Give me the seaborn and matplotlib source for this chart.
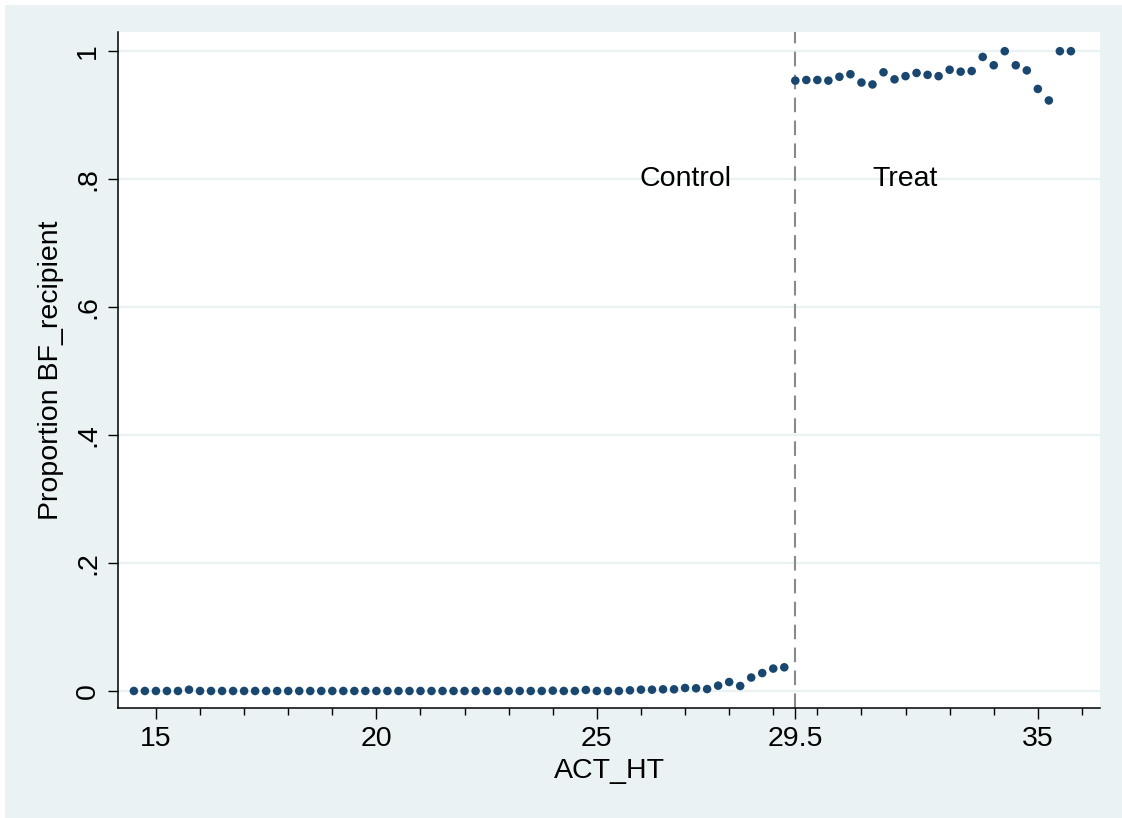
import numpy as np
import pandas as pd
import matplotlib
matplotlib.use("Agg")
import matplotlib.pyplot as plt
from matplotlib.patches import Rectangle
from matplotlib.ticker import FixedLocator
import seaborn as sns

# Bin midpoints of ACT_HT (bins of width 0.25) on each side of the cutoff
act_ht_control = np.arange(14.5, 29.5, 0.25)
act_ht_treat = np.arange(29.5, 36.0, 0.25)

# Share of BF recipients in each bin
prop_control = [
    0, 0, 0, 0, 0, 0.002, 0, 0, 0, 0,
    0, 0, 0, 0, 0, 0, 0, 0, 0, 0,
    0, 0, 0, 0, 0, 0, 0, 0, 0, 0,
    0, 0, 0, 0, 0, 0, 0, 0, 0.0005, 0,
    0, 0.0016, 0, 0, 0, 0.001, 0.002, 0.002, 0.0026, 0.0026,
    0.0047, 0.0042, 0.003, 0.0083, 0.014, 0.0078, 0.021, 0.028, 0.035, 0.037,
]
prop_treat = [
    0.954, 0.955, 0.955, 0.954, 0.960, 0.964, 0.951, 0.948, 0.967, 0.956,
    0.961, 0.966, 0.963, 0.961, 0.971, 0.968, 0.969, 0.991, 0.978, 1.0,
    0.978, 0.970, 0.941, 0.923, 1.0, 1.0,
]

cutoff = 29.5
x_ticks = [15, 20, 25, 29.5, 35]
x_tick_labels = ["15", "20", "25", "29.5", "35"]
x_minor_ticks = list(range(15, 37))
y_ticks = [0, 0.2, 0.4, 0.6, 0.8, 1.0]
y_tick_labels = ["0", ".2", ".4", ".6", ".8", "1"]
group_labels = ["Control", "Treat"]
group_label_x = [27.0, 32.0]

navy = "#1A476F"
panel = "#EAF2F3"
fs = 20.5

sns.set_style("white")
plt.rcParams["font.family"] = ["Liberation Sans", "DejaVu Sans"]
plt.rcParams["text.color"] = "black"
plt.rcParams["axes.labelcolor"] = "black"
plt.rcParams["xtick.color"] = "black"
plt.rcParams["ytick.color"] = "black"

W, H = 1122, 818
fig = plt.figure(figsize=(W / 100, H / 100), dpi=100, facecolor="white")
fig.patches.append(Rectangle((5 / W, 0), 1 - 5 / W, 1 - 5 / H,
                             transform=fig.transFigure, facecolor=panel,
                             edgecolor="none", zorder=-10))

ax = fig.add_axes([118 / W, 1 - 708 / H, (1100 - 118) / W, (708 - 32) / H])
ax.set_zorder(1)
ax.set_facecolor("white")

df = pd.DataFrame({
    "ACT_HT": np.concatenate([act_ht_control, act_ht_treat]),
    "share": prop_control + prop_treat,
})
sns.scatterplot(data=df, x="ACT_HT", y="share", ax=ax, color=navy, s=38,
                edgecolor="none", linewidth=0, zorder=3, legend=False)

ax.axvline(cutoff, color="#8A8A8A", lw=1.5, ls=(0, (7, 4)), zorder=2)

for lab, xx in zip(group_labels, group_label_x):
    ax.text(xx, 0.8, lab, ha="center", va="center", fontsize=fs,
            color="black", zorder=4)

ax.set_xlim(14.14, 36.41)
ax.set_ylim(-0.0266, 1.030)

ax.set_xticks(x_ticks)
ax.set_xticklabels(x_tick_labels)
ax.xaxis.set_minor_locator(FixedLocator(x_minor_ticks))
ax.set_yticks(y_ticks)
ax.set_yticklabels(y_tick_labels, rotation=90, va="center")

ax.yaxis.grid(True, color=panel, lw=1.6, zorder=0)
ax.xaxis.grid(False)
ax.set_axisbelow(True)

ax.tick_params(axis="x", which="major", direction="out", length=8, width=1,
               color="black", labelcolor="black", labelsize=fs, pad=5,
               bottom=True)
ax.tick_params(axis="x", which="minor", direction="out", length=5, width=1,
               color="black", bottom=True)
ax.tick_params(axis="y", which="major", direction="out", length=7, width=1,
               color="black", labelcolor="black", labelsize=fs, pad=5,
               left=True)

for side in ["top", "right"]:
    ax.spines[side].set_visible(False)
for side in ["left", "bottom"]:
    ax.spines[side].set_color("black")
    ax.spines[side].set_linewidth(1.1)

ax.set_xlabel("ACT_HT", fontsize=fs, labelpad=4, color="black")
ax.set_ylabel("Proportion BF_recipient", fontsize=fs, labelpad=8,
              color="black")

fig.savefig("out.png", dpi=100, facecolor="white")
